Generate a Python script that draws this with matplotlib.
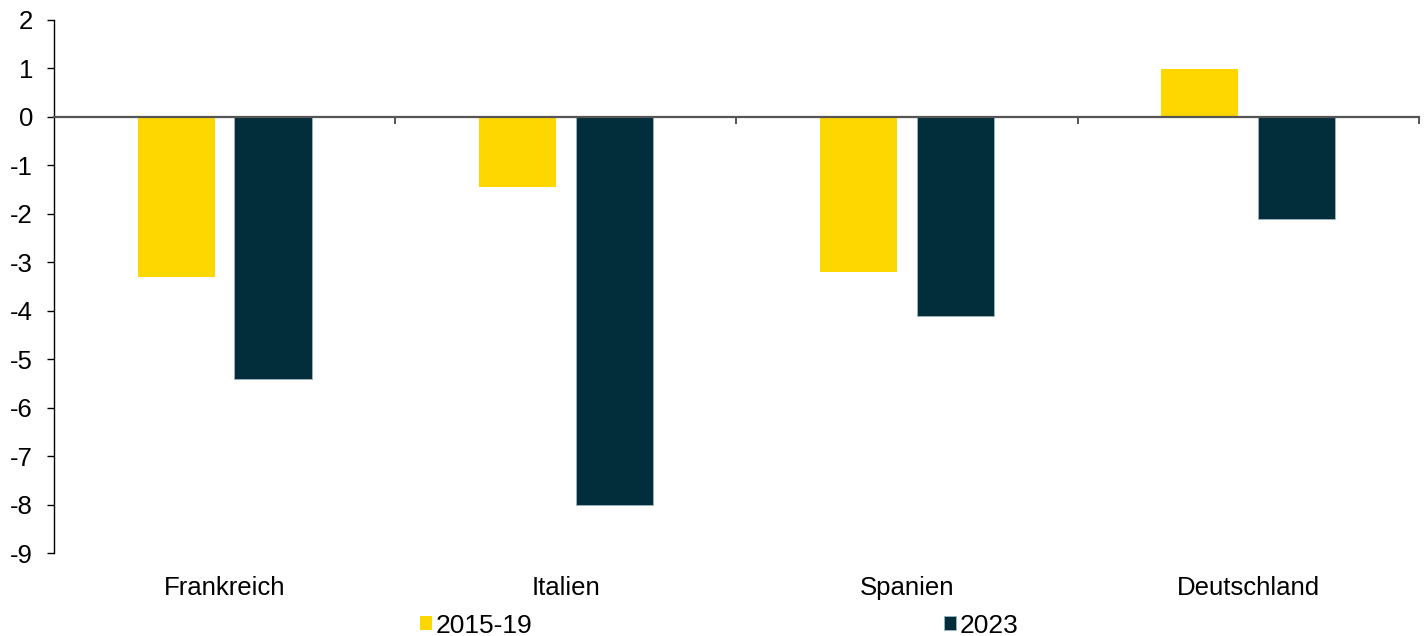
import numpy as np
import matplotlib.pyplot as plt

plt.rcParams['font.family'] = ['Liberation Sans', 'DejaVu Sans']
plt.rcParams['axes.unicode_minus'] = False

# data
countries = ['Frankreich', 'Italien', 'Spanien', 'Deutschland']
period_labels = ['2015-19', '2023']
vals_2015_19 = [-3.3, -1.45, -3.2, 0.98]
vals_2023 = [-5.4, -8.0, -4.1, -2.1]

yellow = '#FFD700'
navy = '#022E3C'

fig = plt.figure(figsize=(14.27, 6.36), dpi=100)
ax = fig.add_axes([0.0378, 0.1305, 0.9566, 0.8381])

x = np.arange(len(countries))
w = 0.226
off = 0.142
ax.bar(x - off, vals_2015_19, w, color=yellow, label=period_labels[0], zorder=2)
ax.bar(x + off, vals_2023, w, color=navy, edgecolor='#9fb4bf', linewidth=0.6,
       label=period_labels[1], zorder=2)

ax.set_xlim(-0.5, len(countries) - 0.5)
ax.set_ylim(-9, 2)
ax.set_yticks(range(-9, 3))
ax.tick_params(axis='y', direction='out', length=5, width=1, labelsize=18.5, pad=10)

# x axis drawn at zero, with ticks between the categories
for s in ['top', 'right']:
    ax.spines[s].set_visible(False)
ax.spines['bottom'].set_position(('data', 0))
ax.spines['bottom'].set_color('#555555')
ax.spines['bottom'].set_linewidth(1.6)
ax.spines['bottom'].set_zorder(3)
ax.spines['left'].set_linewidth(1)
ax.set_xticks(x + 0.5)
ax.set_xticklabels([])
ax.tick_params(axis='x', direction='out', length=5, width=1.4, color='#555555')

for i, c in enumerate(countries):
    ax.text(i, -0.065, c, transform=ax.get_xaxis_transform(), ha='center', va='center',
            fontsize=18.5)

fig.legend(loc='center', bbox_to_anchor=(0.504, 0.0165), ncol=2, frameon=False,
           fontsize=19, handlelength=0.45, handleheight=0.45, handletextpad=0.15,
           columnspacing=15.6, borderaxespad=0)

fig.savefig('out.png', dpi=100)
